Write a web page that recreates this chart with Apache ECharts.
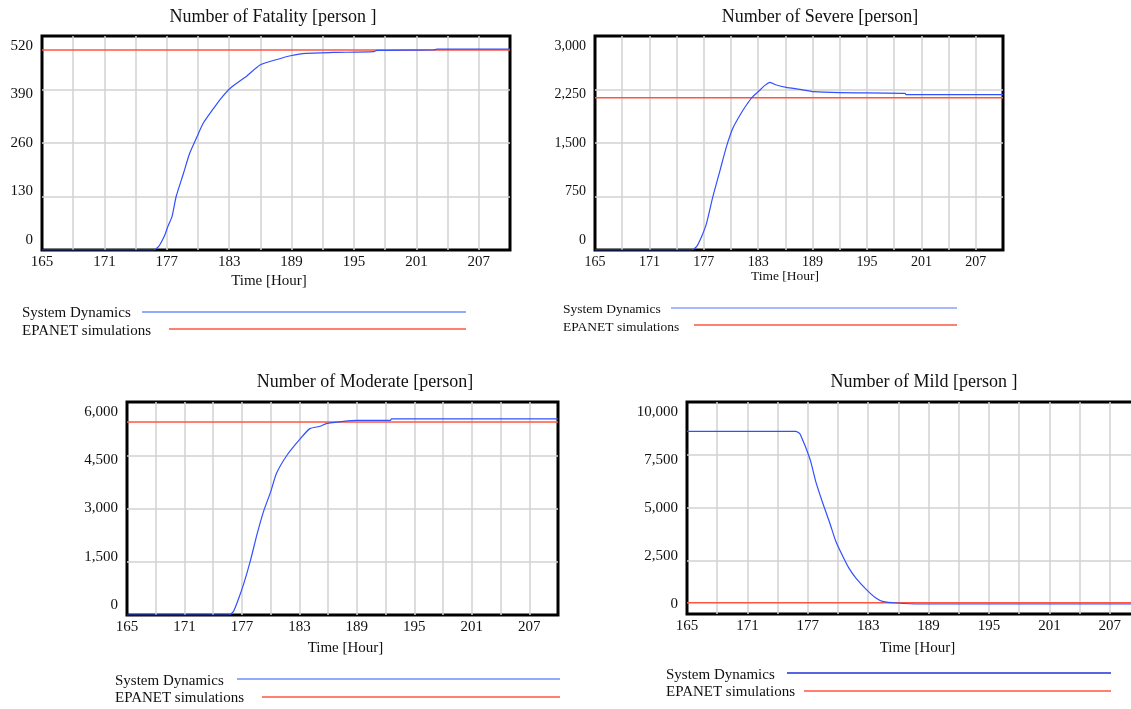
<!DOCTYPE html>
<html>
<head>
<meta charset="utf-8">
<script src="https://cdn.jsdelivr.net/npm/echarts@6/dist/echarts.min.js"></script>
<style>
html,body{margin:0;padding:0;background:#fff;overflow:hidden;}
#chart{width:1145px;height:709px;}
</style>
</head>
<body>
<div id="chart"></div>
<script>
// ---------- DATA ----------
const xTicks = [165, 171, 177, 183, 189, 195, 201, 207];
const legendNames = ['System Dynamics', 'EPANET simulations'];

const fatalityTitle = 'Number of Fatality [person ]';
const fatalityTicks = [0, 130, 260, 390, 520];
const fatalityTime = [165, 175.7, 176.2, 176.8, 177.1, 177.5, 177.9, 178.6, 179.2, 179.9, 180.5, 181.5, 182.1, 183.1, 184.7, 186.0, 187.6, 188.9, 190.4, 193.0, 196.9, 197.2, 202.6, 203.0, 210];
const fatalitySD = [0, 0, 8, 36, 57, 81, 130, 186, 235, 275, 308, 344, 365, 393, 423, 450, 463, 472, 478, 480, 482, 485, 486, 488, 488];
const fatalityEpanet = [486, 486];

const severeTitle = 'Number of Severe [person]';
const severeTicks = [0, 750, 1500, 2250, 3000];
const severeTime = [165, 175.65, 176.2, 176.75, 177.3, 178.0, 178.8, 179.5, 180.2, 181.0, 181.7, 182.4, 183.2, 183.7, 184.3, 185.0, 186.1, 187.6, 189.1, 192.0, 199.2, 199.3, 210];
const severeSD = [0, 0, 47, 187, 374, 748, 1121, 1449, 1706, 1893, 2033, 2150, 2243, 2304, 2350, 2313, 2280, 2252, 2220, 2206, 2196, 2178, 2178];
const severeEpanet = [2136, 2136];

const moderateTitle = 'Number of Moderate [person]';
const moderateTicks = [0, 1500, 3000, 4500, 6000];
const moderateTime = [165, 175.6, 176.1, 176.6, 177.2, 177.9, 178.6, 179.3, 180.0, 180.6, 181.7, 183.1, 184.1, 185.2, 185.8, 187.6, 189.0, 192.5, 192.6, 210];
const moderateSD = [0, 0, 94, 422, 891, 1547, 2297, 2953, 3469, 3984, 4500, 4969, 5250, 5316, 5391, 5456, 5484, 5484, 5522, 5522];
const moderateEpanet = [5438, 5438];

const mildTitle = 'Number of Mild [person ]';
const mildTicks = [0, 2500, 5000, 7500, 10000];
const mildTime = [165, 175.8, 176.2, 176.5, 176.8, 177.3, 177.8, 178.5, 179.2, 179.8, 180.5, 181.1, 181.8, 182.8, 183.8, 184.5, 185.8, 188.1, 210];
const mildSD = [8619, 8619, 8509, 8195, 7850, 7175, 6233, 5212, 4270, 3407, 2700, 2151, 1680, 1162, 738, 581, 518, 471, 471];
const mildEpanet = [534, 534];

const timeRange = [165, 210];

// ---------- LAYOUT ----------
const FONT = "'Liberation Serif', 'Times New Roman', serif";
const BLUE = '#3350ff';
const RED = '#ff5440';

const panels = [
  {title: fatalityTitle, ticks: fatalityTicks, time: fatalityTime, sd: fatalitySD, ep: fatalityEpanet,
   grid: {left: 42, top: 36, width: 468, height: 214}, titleX: 273, titleY: 18, namePad: [0, 14, 0, 0], nameGap: 24,
   fs: 15, nfs: 15, lfs: 15,
   leg: {tx: 22, t1: 313, t2: 331, y1: 312, y2: 329, l1: 142, l2: 169, r: 466, c1: '#6f8cff'}},
  {title: severeTitle, ticks: severeTicks, time: severeTime, sd: severeSD, ep: severeEpanet,
   grid: {left: 595, top: 36, width: 408, height: 214}, titleX: 820, titleY: 18, namePad: [0, 28, 0, 0], nameGap: 19,
   fs: 14, nfs: 13.5, lfs: 13.5,
   leg: {tx: 563, t1: 309, t2: 327, y1: 308, y2: 325, l1: 671, l2: 694, r: 957, c1: '#8aa0ff'}},
  {title: moderateTitle, ticks: moderateTicks, time: moderateTime, sd: moderateSD, ep: moderateEpanet,
   grid: {left: 127, top: 402, width: 431, height: 213}, titleX: 365, titleY: 383, namePad: [0, 0, 0, 6], nameGap: 26,
   fs: 15, nfs: 15, lfs: 15,
   leg: {tx: 115, t1: 681, t2: 698, y1: 679, y2: 697, l1: 237, l2: 262, r: 560, c1: '#6f8cff'}},
  {title: mildTitle, ticks: mildTicks, time: mildTime, sd: mildSD, ep: mildEpanet,
   grid: {left: 687, top: 402, width: 453, height: 212}, titleX: 924, titleY: 383, namePad: [0, 0, 0, 8], nameGap: 27,
   fs: 15, nfs: 15, lfs: 15,
   leg: {tx: 666, t1: 675, t2: 692, y1: 673, y2: 691, l1: 787, l2: 804, r: 1111, c1: '#1f33d6'}}
];

const fmt = v => Number(v).toLocaleString('en-US');

const option = {
  animation: false,
  backgroundColor: '#fff',
  title: [], grid: [], xAxis: [], yAxis: [], series: [], graphic: []
};

panels.forEach((p, i) => {
  const M = p.ticks[p.ticks.length - 1];
  const H = p.grid.height;
  option.title.push({
    text: p.title, left: p.titleX, top: p.titleY - 10, textAlign: 'center', padding: 0,
    textStyle: {fontFamily: FONT, fontSize: 18, fontWeight: 'normal', color: '#111'}
  });
  option.grid.push(Object.assign({show: true, borderColor: '#000', borderWidth: 3, backgroundColor: 'transparent', containLabel: false}, p.grid));
  option.xAxis.push({
    type: 'value', gridIndex: i, min: timeRange[0], max: timeRange[1], interval: 3,
    name: 'Time [Hour]', nameLocation: 'middle', nameGap: p.nameGap,
    nameTextStyle: {fontFamily: FONT, fontSize: p.nfs, color: '#111', padding: p.namePad},
    axisLine: {show: false}, axisTick: {show: false},
    splitLine: {show: true, showMinLine: false, showMaxLine: false, lineStyle: {color: '#d2d2d2', width: 1.5}},
    axisLabel: {
      fontFamily: FONT, fontSize: p.fs, color: '#111', margin: 5, showMaxLabel: true, showMinLabel: true,
      formatter: v => (xTicks.indexOf(v) >= 0 ? String(v) : '')
    }
  });
  // gridline axis
  option.yAxis.push({
    type: 'value', gridIndex: i, min: 0, max: M, interval: M / 4,
    axisLine: {show: false}, axisTick: {show: false}, axisLabel: {show: false},
    splitLine: {show: true, showMinLine: false, showMaxLine: false, lineStyle: {color: '#d2d2d2', width: 1.5}}
  });
  // label axis (Vensim draws labels slightly inset from the box edges)
  const inset = 10;
  const lo = -inset * M / (H - 2 * inset);
  const hi = lo + M * H / (H - 2 * inset);
  option.yAxis.push({
    type: 'value', gridIndex: i, min: lo, max: hi, position: 'left',
    axisLine: {show: false}, axisTick: {show: false}, splitLine: {show: false},
    axisLabel: {customValues: p.ticks, fontFamily: FONT, fontSize: p.fs, color: '#111', margin: 9, formatter: fmt}
  });
  const yIdx = i * 2;
  option.series.push({
    name: legendNames[1], type: 'line', xAxisIndex: i, yAxisIndex: yIdx, symbol: 'none', silent: true,
    lineStyle: {color: RED, width: 1.5},
    data: timeRange.map((t, k) => [t, p.ep[k]])
  });
  option.series.push({
    name: legendNames[0], type: 'line', xAxisIndex: i, yAxisIndex: yIdx, symbol: 'none', silent: true,
    smooth: 0.2,
    lineStyle: {color: BLUE, width: 1.2},
    data: p.time.map((t, k) => [t, p.sd[k]])
  });
  const L = p.leg;
  option.graphic.push(
    {type: 'text', x: L.tx, y: L.t1, style: {text: legendNames[0], font: p.lfs + 'px ' + FONT, fill: '#111', verticalAlign: 'middle'}},
    {type: 'text', x: L.tx, y: L.t2, style: {text: legendNames[1], font: p.lfs + 'px ' + FONT, fill: '#111', verticalAlign: 'middle'}},
    {type: 'line', shape: {x1: L.l1, y1: L.y1, x2: L.r, y2: L.y1}, style: {stroke: L.c1, lineWidth: 1.3}},
    {type: 'line', shape: {x1: L.l2, y1: L.y2, x2: L.r, y2: L.y2}, style: {stroke: RED, lineWidth: 1.3}}
  );
});

const chart = echarts.init(document.getElementById('chart'), null, {renderer: 'canvas'});
chart.setOption(option);
</script>
</body>
</html>
